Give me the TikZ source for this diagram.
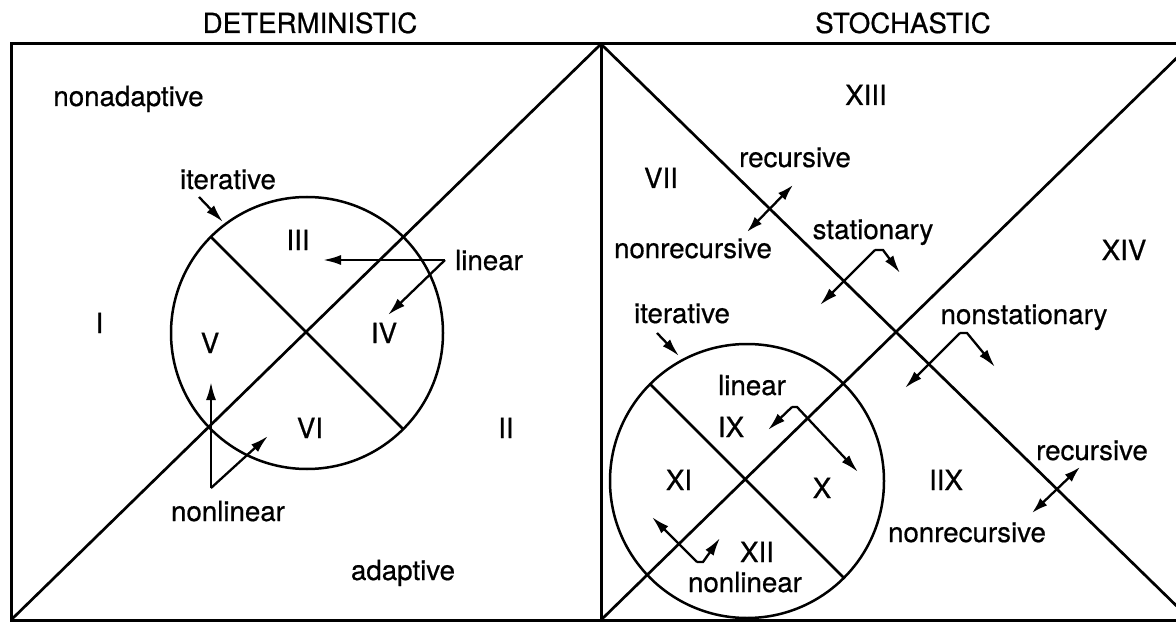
\documentclass[tikz,border=0pt]{standalone}
\usepackage{fontspec}
\setmainfont{TeX Gyre Heros}
\usetikzlibrary{arrows.meta,positioning,calc}
\tikzset{
  marco/.style={draw=black,line width=3pt},
  linea/.style={draw=black,line width=2.7pt},
  circulo/.style={circle,draw=black,line width=2.5pt,inner sep=0pt,outer sep=0pt},
  flecha/.style={-{Latex[length=18pt,width=10pt]},draw=black,line width=2.3pt},
  flechad/.style={{Latex[length=16pt,width=10pt]}-{Latex[length=16pt,width=10pt]},draw=black,line width=2.3pt},
  et/.style={font=\fontsize{27.7}{32}\selectfont\addfontfeatures{FakeBold=0.6},inner sep=0pt,anchor=base},
  tit/.style={et},
}

\begin{document}
\begin{tikzpicture}[x=1pt,y=-1pt]
\useasboundingbox (0,0) rectangle (1176,623);

% marco y diagonales
\coordinate (ai) at (11,44);
\coordinate (bi) at (11,620);
\coordinate (am) at (601,44);
\coordinate (bm) at (601,620);
\coordinate (ad) at (1191,44);
\coordinate (bd) at (1191,620);
\draw[marco] (ai) rectangle (bd);
\draw[marco] (am) -- (bm);
\draw[linea] (bi) -- (am);
\draw[linea] (am) -- (bd);
\draw[linea] (bm) -- (ad);

\node[tit] (det) at (310,33) {DETERMINISTIC};
\node[tit] (sto) at (903,33) {STOCHASTIC};

% determinista
\node[circulo,minimum size=272pt] (cI) at (307,333) {};
\draw[linea] (cI.135) -- (cI.-45);

\node[et] (nad) at (128.5,106) {nonadaptive};
\node[et] (itI) at (228,189) {iterative};
\node[et] (r3) at (298,250) {III};
\node[et] (linI) at (489,270) {linear};
\node[et] (r1) at (99.5,333) {I};
\node[et] (r5) at (210,353) {V};
\node[et] (r4) at (384,343) {IV};
\node[et] (r6) at (310,438) {VI};
\node[et] (r2) at (506,438) {II};
\node[et] (nlI) at (228,521) {nonlinear};
\node[et] (ad) at (403,580) {adaptive};

\coordinate (itI0) at (199,197);
\coordinate (itI1) at (223,222);
\draw[flecha] (itI0) -- (itI1);

\coordinate (lnI) at (445,260);
\coordinate (lnIa) at (323,260);
\coordinate (lnIb) at (388,315);
\draw[flecha] (lnI) -- (lnIa);
\draw[flecha] (lnI) -- (lnIb);

\coordinate (nnI) at (211,488);
\coordinate (nnIa) at (211,382);
\coordinate (nnIb) at (268,436);
\draw[flecha] (nnI) -- (nnIa);
\draw[flecha] (nnI) -- (nnIb);

% estocastico
\node[circulo,minimum size=274pt] (cII) at (747,481) {};
\draw[linea] (cII.135) -- (cII.-45);

\node[et] (r13) at (866,105) {XIII};
\node[et] (r7) at (661,188) {VII};
\node[et] (recA) at (795,167) {recursive};
\node[et] (nrecA) at (693,258) {nonrecursive};
\node[et] (est) at (873,239) {stationary};
\node[et] (r14) at (1124,260) {XIV};
\node[et] (itII) at (682,323) {iterative};
\node[et] (nest) at (1024,324) {nonstationary};
\node[et] (linII) at (752,395) {linear};
\node[et] (r9) at (731,437) {IX};
\node[et] (r11) at (679,490) {XI};
\node[et] (r10) at (822,498) {X};
\node[et] (r12) at (757,562) {XII};
\node[et] (nlII) at (745,592) {nonlinear};
\node[et] (r8) at (946,490) {IIX};
\node[et] (recB) at (1092,460) {recursive};
\node[et] (nrecB) at (967,542) {nonrecursive};

\coordinate (rcA0) at (747,232);
\coordinate (rcA1) at (793,185);
\draw[flechad] (rcA0) -- (rcA1);

\coordinate (es) at (875,250);
\coordinate (es1) at (883,250);
\coordinate (esa) at (820,305);
\coordinate (esb) at (900,273);
\draw[flecha] (es) -- (esa);
\draw[flecha] (es) -- (es1) -- (esb);

\coordinate (itII0) at (657,333);
\coordinate (itII1) at (679,356);
\draw[flecha] (itII0) -- (itII1);

\coordinate (nes) at (960,333);
\coordinate (nes1) at (967,333);
\coordinate (nesa) at (905,388);
\coordinate (nesb) at (995,367);
\draw[flecha] (nes) -- (nesa);
\draw[flecha] (nes) -- (nes1) -- (nesb);

\coordinate (lnII) at (792,407);
\coordinate (lnII1) at (797,407);
\coordinate (lnIIa) at (768,430);
\coordinate (lnIIb) at (858,472);
\draw[flecha] (lnII) -- (lnIIa);
\draw[flecha] (lnII) -- (lnII1) -- (lnIIb);

\coordinate (nnII) at (697,562);
\coordinate (nnII1) at (703,562);
\coordinate (nnIIa) at (652,517);
\coordinate (nnIIb) at (720,538);
\draw[flecha] (nnII) -- (nnIIa);
\draw[flecha] (nnII) -- (nnII1) -- (nnIIb);

\coordinate (rcB0) at (1032,513);
\coordinate (rcB1) at (1080,467);
\draw[flechad] (rcB0) -- (rcB1);

\end{tikzpicture}
\end{document}
